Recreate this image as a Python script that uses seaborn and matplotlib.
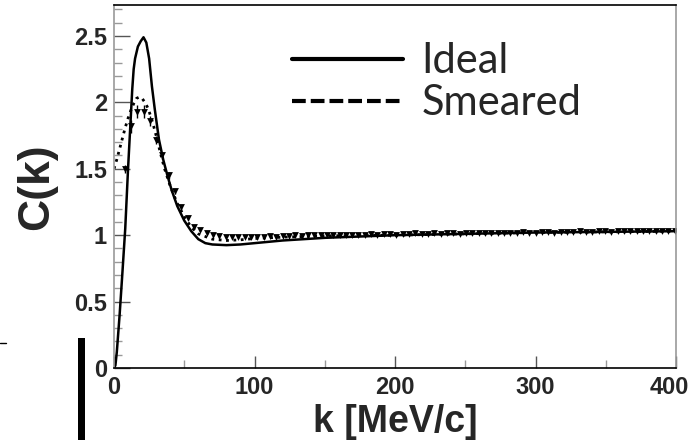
import numpy as np
import matplotlib
matplotlib.use("Agg")
import matplotlib.pyplot as plt
import matplotlib.transforms as mtransforms
import seaborn as sns
from matplotlib.lines import Line2D
from matplotlib.patches import Rectangle
from matplotlib.ticker import MultipleLocator

# ideal correlation function (solid)
k_ideal = [0, 1, 2, 4, 6, 8, 10, 12, 13, 14, 15, 17, 19, 21, 23, 25, 27, 29, 32, 35,
           38, 41, 45, 50, 55, 60, 65, 70, 80, 90, 100, 120, 150, 200, 250, 300, 350, 400]
c_ideal = [0.0, 0.02, 0.12, 0.4, 0.72, 1.05, 1.5, 1.9, 2.1, 2.25, 2.33, 2.42, 2.46, 2.49, 2.45, 2.33, 2.12, 1.95, 1.72, 1.57,
           1.45, 1.34, 1.22, 1.11, 1.03, 0.97, 0.94, 0.93, 0.925, 0.93, 0.94, 0.96, 0.98, 1.0, 1.01, 1.02, 1.025, 1.03]

# smeared correlation function (dotted)
k_smear = [0, 2, 4, 6, 8, 10, 12, 14, 16, 18, 20, 22, 24, 26, 28, 30, 33, 36, 40, 45,
           50, 55, 60, 70, 80, 90, 100, 120, 150, 200, 250, 300, 350, 400]
c_smear = [1.5, 1.57, 1.65, 1.73, 1.81, 1.88, 1.94, 1.99, 2.03, 2.04, 2.03, 2.0, 1.96, 1.9, 1.83, 1.75, 1.62, 1.5, 1.37, 1.24,
           1.14, 1.06, 1.01, 0.97, 0.96, 0.965, 0.975, 0.985, 0.995, 1.0, 1.01, 1.02, 1.025, 1.03]

# measured points (triangles), bin centres every 4.5 MeV/c
k_bins = np.arange(3, 400, 4.5)
c_meas = [np.nan, 1.5, 1.82, 1.93, 1.93, 1.86, 1.72, 1.6, 1.45, 1.33,
          1.21, 1.13, 1.06, 1.04, 1.02, 1.005, 0.995, 0.99, 0.985, 0.985,
          0.985, 0.99, 0.99, 0.99, 0.995, 0.99, 0.995, 0.995, 1.0, 0.995,
          1.0, 1.0, 1.0, 1.005, 1.0, 1.0, 1.005, 1.005, 1.0, 1.005,
          1.01, 1.005, 1.01, 1.01, 1.005, 1.01, 1.01, 1.015, 1.01, 1.01,
          1.015, 1.01, 1.015, 1.015, 1.01, 1.015, 1.015, 1.02, 1.015, 1.015,
          1.02, 1.02, 1.02, 1.02, 1.025, 1.02, 1.02, 1.025, 1.025, 1.02,
          1.025, 1.025, 1.025, 1.03, 1.025, 1.025, 1.03, 1.03, 1.025, 1.03,
          1.03, 1.03, 1.03, 1.03, 1.035, 1.03, 1.03, 1.035, 1.035]
e_meas = [0.0, 0.03, 0.05, 0.05, 0.05, 0.04, 0.03, 0.03, 0.025, 0.02,
          0.02, 0.015, 0.015, 0.01, 0.01, 0.01, 0.01, 0.01, 0.01, 0.01,
          0.01, 0.01, 0.01, 0.01, 0.01, 0.01, 0.01, 0.01, 0.01, 0.01,
          0.01, 0.01, 0.01, 0.01, 0.01, 0.01, 0.01, 0.01, 0.01, 0.01,
          0.01, 0.01, 0.01, 0.01, 0.01, 0.01, 0.01, 0.01, 0.01, 0.01,
          0.01, 0.01, 0.01, 0.01, 0.01, 0.01, 0.01, 0.01, 0.01, 0.01,
          0.01, 0.01, 0.01, 0.01, 0.01, 0.01, 0.01, 0.01, 0.01, 0.01,
          0.01, 0.01, 0.01, 0.01, 0.01, 0.01, 0.01, 0.01, 0.01, 0.01,
          0.01, 0.01, 0.01, 0.01, 0.01, 0.01, 0.01, 0.01, 0.01]

legend_labels = ['Ideal', 'Smeared']

sns.set_style("ticks")
plt.rcParams['font.family'] = ['Liberation Sans', 'DejaVu Sans']
plt.rcParams['font.weight'] = 'bold'

fig = plt.figure(figsize=(6.9, 4.4), dpi=100)
ax = fig.add_axes([114/690, 72/440, 562/690, 363/440])

sns.lineplot(x=k_ideal, y=c_ideal, ax=ax, color='black', lw=1.8)
sns.lineplot(x=k_smear, y=c_smear, ax=ax, color='black', lw=2.0, linestyle=':')
ax.errorbar(k_bins, c_meas, yerr=e_meas, fmt='none', ecolor='black', elinewidth=1)
sns.scatterplot(x=k_bins, y=c_meas, ax=ax, marker='v', s=24, color='black', linewidth=0)

ax.set_xlim(0, 400)
ax.set_ylim(0, 2.733)
ax.xaxis.set_major_locator(MultipleLocator(100))
ax.xaxis.set_minor_locator(MultipleLocator(50))
ax.yaxis.set_major_locator(MultipleLocator(0.5))
ax.yaxis.set_minor_locator(MultipleLocator(0.1))
ax.yaxis.set_major_formatter(matplotlib.ticker.FuncFormatter(lambda v, p: f"{v:g}"))

ax.tick_params(axis='both', which='major', direction='in', labelsize=17, color='#555555', width=1)
ax.tick_params(axis='y', which='major', length=11.5, pad=5)
ax.tick_params(axis='x', which='major', length=9, pad=6)
ax.tick_params(axis='both', which='minor', direction='in', length=5.5, color='#999999', width=1)

for side in ['left', 'right']:
    ax.spines[side].set_color('#999999')
    ax.spines[side].set_linewidth(1.2)
for side in ['top', 'bottom']:
    ax.spines[side].set_color('black')
    ax.spines[side].set_linewidth(1.2)

ax.set_xlabel('k [MeV/c]', fontsize=27, fontweight='bold', labelpad=3)
ax.set_ylabel('C(k)', fontsize=32, fontweight='bold', labelpad=12)

# keep the "400" label inside the picture, as in the source
fig.canvas.draw()
for tick in ax.xaxis.get_major_ticks():
    if abs(tick.get_loc() - 400) < 1e-6:
        lab = tick.label1
        lab.set_transform(lab.get_transform() +
                          mtransforms.ScaledTranslation(-7/100, 0, fig.dpi_scale_trans))

handles = [Line2D([], [], color='black', lw=3),
           Line2D([], [], color='black', lw=3, linestyle=(0, (3.3, 1.2)))]
ax.legend(handles, legend_labels, loc='upper left', bbox_to_anchor=(0.28, 0.955),
          frameon=False, handlelength=2.65, handletextpad=0.45, labelspacing=0.1,
          borderpad=0, prop={'family': 'Lato', 'size': 30, 'weight': 'normal'})

# stray marks at the lower left of the source image
fig.add_artist(Rectangle((78/690, 0), 7/690, 102/440, transform=fig.transFigure,
                         color='black', lw=0))
fig.add_artist(Line2D([0, 6/690], [1 - 343/440, 1 - 343/440], transform=fig.transFigure,
                      color='black', lw=1))

fig.savefig('out.png', dpi=100)
